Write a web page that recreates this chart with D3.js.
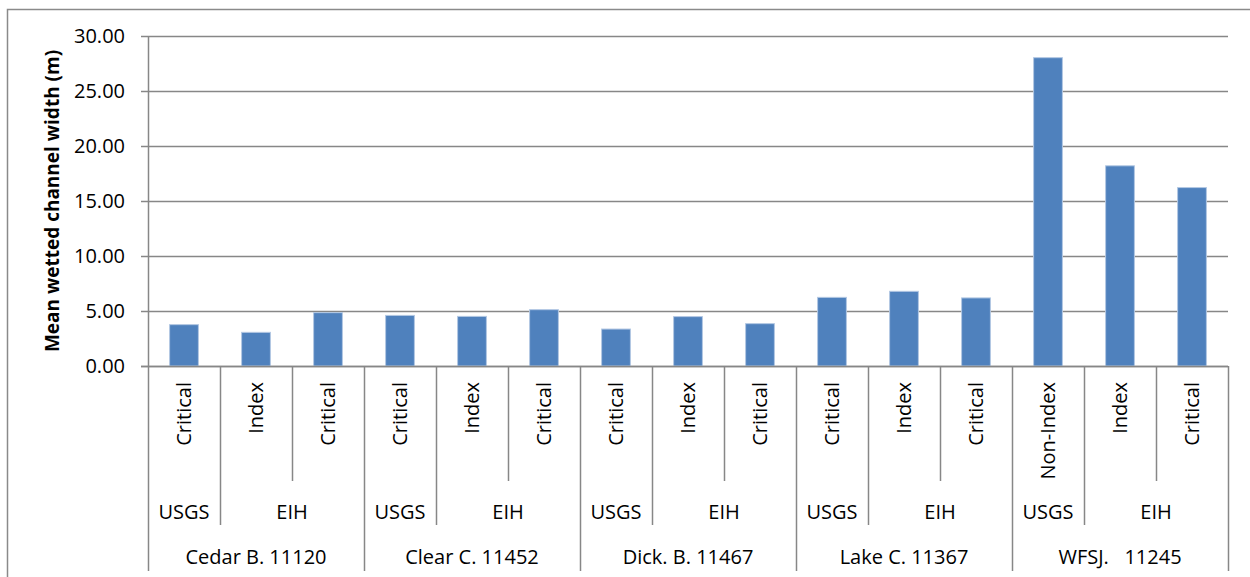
<!DOCTYPE html>
<html>
<head>
<meta charset="utf-8">
<script src="https://cdn.jsdelivr.net/npm/d3@7"></script>
<style>
  body { margin: 0; background: #fff; }
  svg { display: block; font-family: 'Open Sans', sans-serif; }
  text { fill: #000; white-space: pre; }
</style>
</head>
<body>
<svg></svg>
<script>
// data: 5 sites, each with a USGS site and two EIH sites
var sites = ['Cedar B. 11120', 'Clear C. 11452', 'Dick. B. 11467', 'Lake C. 11367', 'WFSJ.   11245'];
var sources = ['USGS', 'EIH', 'EIH', 'USGS', 'EIH', 'EIH', 'USGS', 'EIH', 'EIH', 'USGS', 'EIH', 'EIH', 'USGS', 'EIH', 'EIH'];
var types = ['Critical', 'Index', 'Critical', 'Critical', 'Index', 'Critical', 'Critical', 'Index', 'Critical',
  'Critical', 'Index', 'Critical', 'Non-Index', 'Index', 'Critical'];
var widths = [3.76, 3.06, 4.85, 4.60, 4.51, 5.12, 3.36, 4.49, 3.85, 6.24, 6.79, 6.19, 28.03, 18.20, 16.22];
var yTicks = [0, 5, 10, 15, 20, 25, 30];

var W = 1250, H = 577;
var margin = { top: 36, right: 22, left: 148 };
var plotBottom = 366;

var svg = d3.select('svg')
    .attr('width', W)
    .attr('height', H);

// chart border (runs off the picture at right and bottom)
svg.append('rect')
    .attr('x', 7.5).attr('y', 9.5)
    .attr('width', 1260).attr('height', 620)
    .attr('fill', 'none')
    .attr('stroke', '#8a8a8a')
    .attr('stroke-width', 1.5);

var rows = widths.map(function(d, i) {
  return { key: i, site: sites[Math.floor(i / 3)], source: sources[i], type: types[i], value: d };
});

var x = d3.scaleBand()
    .domain(rows.map(function(d) { return d.key; }))
    .range([margin.left, W - margin.right])
    .paddingInner(0.6)
    .paddingOuter(0.3);
var step = x.step();
var y = d3.scaleLinear().domain([0, 30]).range([plotBottom, margin.top]);

// gridlines
svg.append('g')
    .attr('class', 'grid')
  .selectAll('line')
  .data(yTicks)
  .enter().append('line')
    .attr('x1', margin.left - 7)
    .attr('x2', W - margin.right)
    .attr('y1', function(d) { return Math.round(y(d)) + 0.5; })
    .attr('y2', function(d) { return Math.round(y(d)) + 0.5; })
    .attr('stroke', '#878787')
    .attr('stroke-width', 1.5);

// y axis with tick labels
var yAxis = d3.axisLeft(y)
    .tickValues(yTicks)
    .tickSize(0)
    .tickPadding(23)
    .tickFormat(d3.format('.2f'));
var gy = svg.append('g')
    .attr('transform', 'translate(' + margin.left + ',0)')
    .call(yAxis);
gy.select('.domain')
    .attr('stroke', '#878787')
    .attr('stroke-width', 1.5);
gy.selectAll('text')
    .style('font-size', '20px')
    .style('font-family', "'Open Sans', sans-serif")
    .attr('fill', '#000');

svg.append('text')
    .attr('transform', 'translate(52,' + ((margin.top + plotBottom) / 2) + ') rotate(-90)')
    .attr('text-anchor', 'middle')
    .attr('dy', '0.35em')
    .style('font-size', '19px')
    .style('font-weight', 'bold')
    .text('Mean wetted channel width (m)');

// bars
svg.append('g')
  .selectAll('rect')
  .data(rows)
  .enter().append('rect')
    .attr('x', function(d) { return x(d.key); })
    .attr('y', function(d) { return y(d.value); })
    .attr('width', x.bandwidth())
    .attr('height', function(d) { return plotBottom - y(d.value); })
    .attr('fill', '#4f81bd')
    .attr('stroke', '#b3c8e3')
    .attr('stroke-width', 1);

// category axis, three levels
var cat = svg.append('g').attr('class', 'cat');
var left = function(i) { return margin.left + i * step; };
var lvl1 = 481, lvl2 = 525, lvl3 = 571;

cat.append('line')
    .attr('x1', margin.left - 7).attr('x2', W - margin.right)
    .attr('y1', plotBottom + 0.5).attr('y2', plotBottom + 0.5)
    .attr('stroke', '#878787').attr('stroke-width', 1.5);

// dividers: long at site borders, middle at source borders, short otherwise
var dividers = d3.range(rows.length + 1).map(function(i) {
  var end = lvl1;
  if (i % 3 === 0) end = lvl3;
  else if (sources[i] !== sources[i - 1]) end = lvl2;
  return { x: left(i), end: end };
});
cat.selectAll('line.div')
  .data(dividers)
  .enter().append('line')
    .attr('class', 'div')
    .attr('x1', function(d) { return Math.round(d.x) + 0.5; })
    .attr('x2', function(d) { return Math.round(d.x) + 0.5; })
    .attr('y1', plotBottom)
    .attr('y2', function(d) { return d.end; })
    .attr('stroke', '#878787')
    .attr('stroke-width', 1.5);

// level 1: rotated type labels
cat.selectAll('text.type')
  .data(rows)
  .enter().append('text')
    .attr('class', 'type')
    .attr('transform', function(d) {
      return 'translate(' + (x(d.key) + x.bandwidth() / 2) + ',382) rotate(-90)';
    })
    .attr('text-anchor', 'end')
    .attr('dy', '0.36em')
    .style('font-size', '20px')
    .text(function(d) { return d.type; });

// level 2: source labels, grouping consecutive same sources inside a site
var groups = [];
rows.forEach(function(d, i) {
  var g = groups[groups.length - 1];
  if (g && g.source === d.source && i % 3 !== 0) g.n += 1;
  else groups.push({ source: d.source, start: i, n: 1 });
});
cat.selectAll('text.src')
  .data(groups)
  .enter().append('text')
    .attr('class', 'src')
    .attr('x', function(d) { return left(d.start) + d.n * step / 2; })
    .attr('y', 512)
    .attr('text-anchor', 'middle')
    .attr('dy', '0.36em')
    .style('font-size', '20px')
    .text(function(d) { return d.source; });

// level 3: site labels
cat.selectAll('text.site')
  .data(sites)
  .enter().append('text')
    .attr('class', 'site')
    .attr('x', function(d, i) { return left(i * 3) + 1.5 * step; })
    .attr('y', 557)
    .attr('text-anchor', 'middle')
    .attr('dy', '0.36em')
    .style('font-size', '20px')
    .text(function(d) { return d; });
</script>
</body>
</html>
